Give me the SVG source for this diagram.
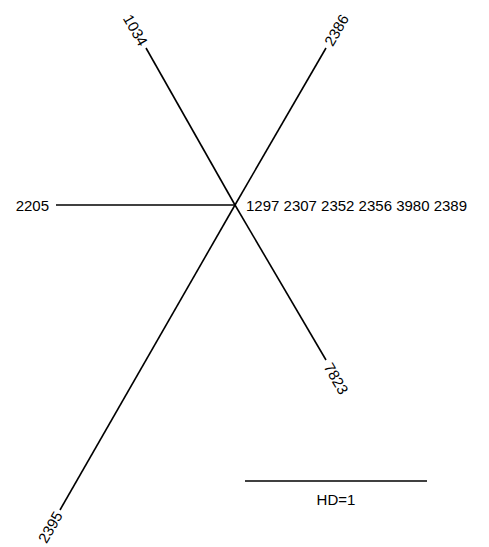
<svg xmlns="http://www.w3.org/2000/svg" width="489" height="547" viewBox="0 0 489 547">
<style>
.e{stroke:#000;stroke-width:1.6;fill:none}
text{font-family:"Liberation Sans",Arial,sans-serif;font-size:15px;fill:#000}
.c{dominant-baseline:central}
</style>
<rect width="489" height="547" fill="#fff"/>
<g id="connectors">
<line class="e" x1="235" y1="205" x2="146" y2="48"/>
<line class="e" x1="235" y1="205" x2="326" y2="48"/>
<line class="e" x1="235" y1="205" x2="56" y2="205"/>
<line class="e" x1="235" y1="205" x2="326" y2="360"/>
<line class="e" x1="235" y1="205" x2="60" y2="510"/>
</g>
<g id="n_center"><text x="246" y="205" class="c">1297 2307 2352 2356 3980 2389</text></g>
<g id="n_1034"><text class="c" text-anchor="end" transform="translate(144,44.5) rotate(60)">1034</text></g>
<g id="n_2386"><text class="c" transform="translate(328,44.5) rotate(-60)">2386</text></g>
<g id="n_2205"><text class="c" text-anchor="end" x="49" y="205">2205</text></g>
<g id="n_7823"><text class="c" transform="translate(328,364) rotate(60)">7823</text></g>
<g id="n_2395"><text class="c" text-anchor="end" transform="translate(58.5,512.5) rotate(-60)">2395</text></g>
<g id="scale">
<line class="e" x1="245" y1="481" x2="427" y2="481"/>
<text x="336" y="505" text-anchor="middle">HD=1</text>
</g>
</svg>
